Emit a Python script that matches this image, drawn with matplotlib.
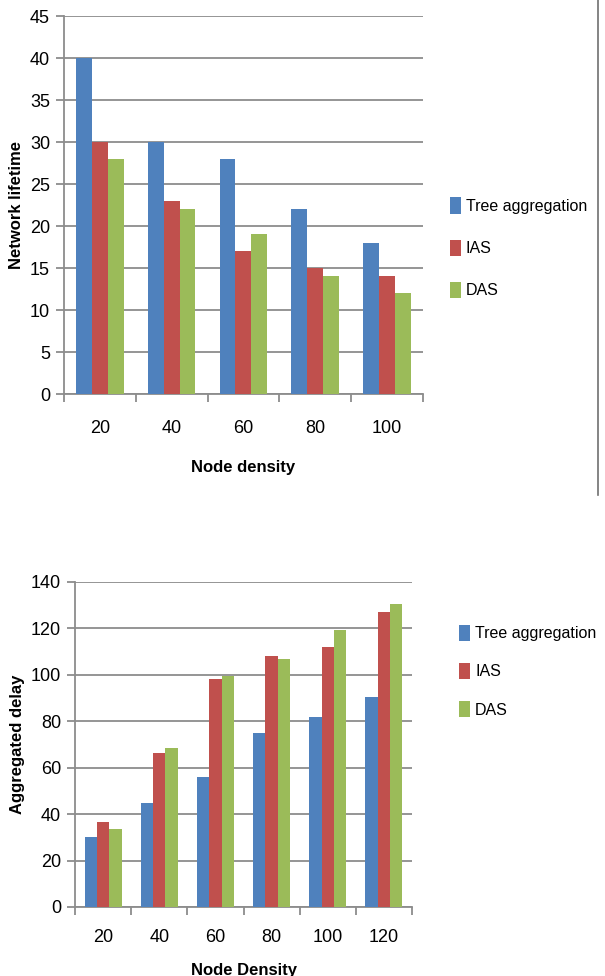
import numpy as np
import matplotlib.pyplot as plt
from matplotlib.lines import Line2D

plt.rcParams['font.family'] = ['Liberation Sans', 'DejaVu Sans']

series = ["Tree aggregation", "IAS", "DAS"]
colors = ["#4F81BD", "#C0504D", "#9BBB59"]

# chart 1: network lifetime
density1 = ["20", "40", "60", "80", "100"]
tree1 = [40, 30, 28, 22, 18]
ias1 = [30, 23, 17, 15, 14]
das1 = [28, 22, 19, 14, 12]

# chart 2: aggregated delay
density2 = ["20", "40", "60", "80", "100", "120"]
tree2 = [30, 45, 56, 75, 82, 90.5]
ias2 = [36.7, 66.5, 98, 108, 111.8, 127]
das2 = [33.4, 68.3, 99.4, 107, 119.3, 130.5]


def bar_chart(ax, cats, vals, ymax, ystep, xlabel, ylabel, tpad, lpad):
    x = np.arange(len(cats))
    w = 0.22
    for i, (v, c, name) in enumerate(zip(vals, colors, series)):
        ax.bar(x + (i - 1) * w, v, w, color=c, label=name, zorder=3)
    ax.set_xlim(-0.5, len(cats) - 0.5)
    ax.set_ylim(0, ymax)
    ax.set_yticks(np.arange(0, ymax + 1, ystep))
    ax.yaxis.grid(True, color="#8c8c8c", linewidth=1.3)
    ax.set_axisbelow(True)
    ax.set_xticks(x)
    ax.set_xticklabels(cats)
    ax.set_xticks(np.arange(len(cats) + 1) - 0.5, minor=True)
    ax.tick_params(axis="x", which="major", length=0, pad=tpad, labelsize=13)
    ax.tick_params(axis="x", which="minor", length=6, color="#8c8c8c", width=1.3)
    ax.tick_params(axis="y", length=6, color="#8c8c8c", width=1.3, labelsize=13, pad=4)
    for s in ["top", "right"]:
        ax.spines[s].set_visible(False)
    for s in ["left", "bottom"]:
        ax.spines[s].set_color("#8c8c8c")
        ax.spines[s].set_linewidth(1.3)
    ax.set_xlabel(xlabel, fontsize=12, fontweight="bold", labelpad=lpad)
    ax.set_ylabel(ylabel, fontsize=12, fontweight="bold", labelpad=4)


fig = plt.figure(figsize=(6.05, 9.76), dpi=100)

ax1 = fig.add_axes([0.1058, 0.5963, 0.593, 0.3873])
bar_chart(ax1, density1, [tree1, ias1, das1], 45, 5, "Node density", "Network lifetime", 19, 16)
ax1.legend(loc="upper left", bbox_to_anchor=(1.057, 0.537), frameon=False,
           fontsize=11.5, handlelength=0.7, handleheight=1.2, handletextpad=0.3,
           labelspacing=1.6, borderaxespad=0)

ax2 = fig.add_axes([0.124, 0.0707, 0.557, 0.333])
bar_chart(ax2, density2, [tree2, ias2, das2], 140, 20, "Node Density", "Aggregated delay", 16, 12)
ax2.legend(loc="upper left", bbox_to_anchor=(1.121, 0.888), frameon=False,
           fontsize=11.5, handlelength=0.7, handleheight=1.2, handletextpad=0.3,
           labelspacing=1.35, borderaxespad=0)

# frame edge at the right of the first chart
fig.add_artist(Line2D([598 / 605, 598 / 605], [1.0, 1 - 495 / 976],
                      transform=fig.transFigure, color="#707070", linewidth=1.2))

fig.savefig("out.png", dpi=100)
